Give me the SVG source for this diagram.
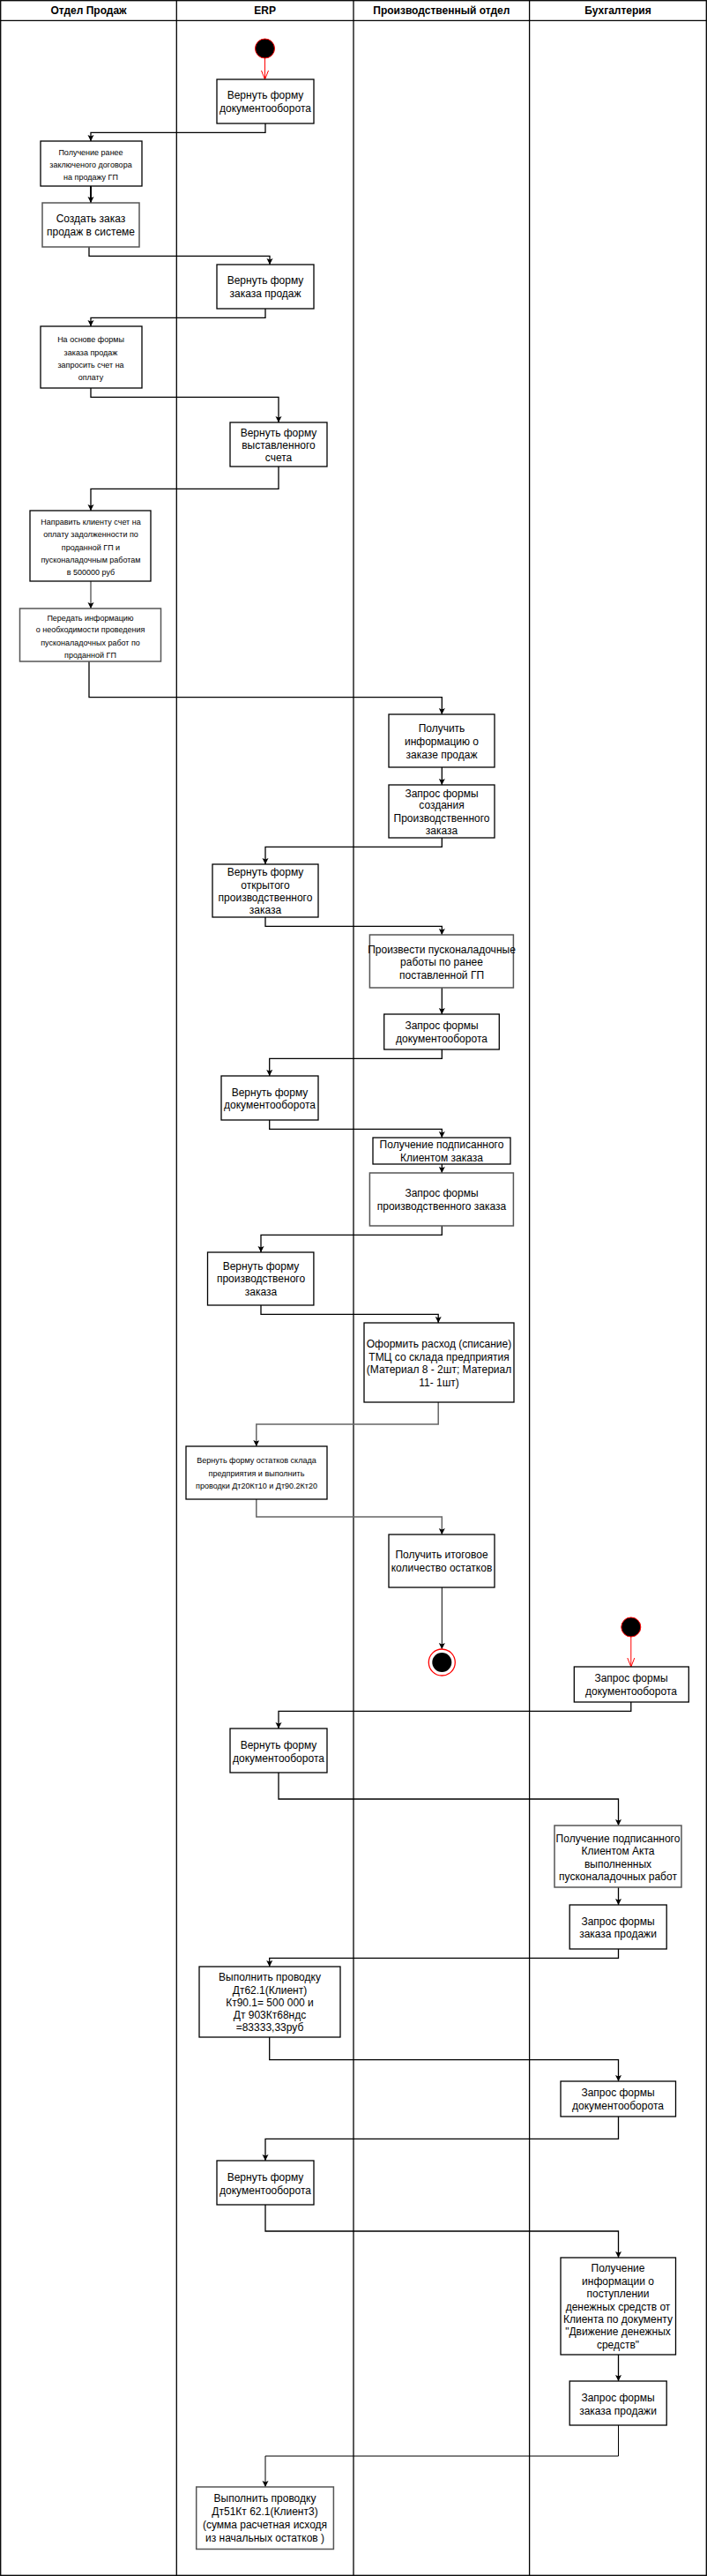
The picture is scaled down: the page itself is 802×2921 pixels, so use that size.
<svg xmlns="http://www.w3.org/2000/svg" width="802" height="2921" viewBox="0 0 802 2921">
<style>
.lane{fill:none;stroke:#000;stroke-width:1.3}
.hd{font-family:"Liberation Sans",Arial,sans-serif;font-size:12px;font-weight:bold;text-anchor:middle;fill:#000}
.box{fill:#fff;stroke:#000;stroke-width:1.3}
.gbox{fill:#fff;stroke:#555;stroke-width:1.5}
.t{font-family:"Liberation Sans",Arial,sans-serif;font-size:12px;text-anchor:middle;fill:#000}
.s{font-family:"Liberation Sans",Arial,sans-serif;font-size:9px;text-anchor:middle;fill:#000}
.c{fill:none;stroke:#000;stroke-width:1.3;marker-end:url(#arr)}
.cg{fill:none;stroke:#666;stroke-width:1.5;marker-end:url(#arr)}
.cr{fill:none;stroke:#f00;stroke-width:1;marker-end:url(#open)}
</style>
<defs>
<marker id="arr" markerUnits="userSpaceOnUse" markerWidth="8" markerHeight="8" refX="7" refY="3.5" orient="auto" viewBox="0 0 8 8">
<path d="M0,0 L7,3.5 L0,7 L1.5,3.5 z" fill="#000"/>
</marker>
<marker id="open" markerUnits="userSpaceOnUse" markerWidth="11" markerHeight="10" refX="10" refY="4" orient="auto" viewBox="0 0 11 10">
<path d="M0,0 L10,4 L0,8" fill="none" stroke="#f00" stroke-width="1"/>
</marker>
</defs>
<rect x="0" y="0" width="802" height="2921" fill="#fff"/>
<g id="lanes">
<rect class="lane" x="0.7" y="0.7" width="800.6" height="2919.6"/>
<line class="lane" x1="0.7" y1="23.3" x2="801.3" y2="23.3"/>
<line class="lane" x1="200.3" y1="0.7" x2="200.3" y2="2920.3"/>
<line class="lane" x1="401" y1="0.7" x2="401" y2="2920.3"/>
<line class="lane" x1="600.6" y1="0.7" x2="600.6" y2="2920.3"/>
<text class="hd" x="100.5" y="16">Отдел Продаж</text>
<text class="hd" x="300.6" y="16">ERP</text>
<text class="hd" x="500.8" y="16">Производственный отдел</text>
<text class="hd" x="701" y="16">Бухгалтерия</text>
</g>
<g id="connectors">
<path class="cr" d="M300.5,66 V90"/>
<path class="c" d="M301,140 V150.3 H103 V160"/>
<path class="c" style="stroke-width:2" d="M103,211 V230"/>
<path class="c" d="M101,280 V290.3 H306 V300"/>
<path class="c" d="M301,350 V360.3 H103 V370"/>
<path class="c" d="M103,440 V450.3 H316 V479"/>
<path class="c" d="M316,529 V554.3 H103 V579"/>
<path class="cg" d="M103,659 V690"/>
<path class="c" d="M101,750 V790.7 H501.3 V810"/>
<path class="c" d="M501.3,870 V890"/>
<path class="c" d="M501.3,950 V960.3 H301 V980"/>
<path class="c" d="M301,1040 V1050.3 H501.3 V1060"/>
<path class="c" d="M501.3,1120 V1150"/>
<path class="c" d="M501.3,1190 V1200.3 H305.7 V1220"/>
<path class="c" d="M305.7,1270 V1280.3 H501.3 V1290"/>
<path class="c" d="M501.3,1320 V1330"/>
<path class="c" d="M501.3,1390 V1400.3 H296 V1420"/>
<path class="c" d="M296,1480 V1490.3 H497.2 V1500"/>
<path class="cg" d="M497.2,1590 V1615 H290.8 V1640"/>
<path class="cg" d="M290.8,1700 V1720 H501.3 V1740"/>
<path class="c" style="stroke-width:1" d="M501.3,1800 V1870"/>
<path class="cr" d="M715.8,1856 V1890"/>
<path class="c" d="M715.8,1930 V1940.3 H316 V1960"/>
<path class="c" d="M316,2010 V2040 H701.5 V2070"/>
<path class="c" d="M701.5,2140 V2160"/>
<path class="c" d="M701.5,2210 V2220.3 H305.7 V2230"/>
<path class="c" d="M305.7,2310 V2335.7 H701.5 V2360"/>
<path class="c" d="M701.5,2400 V2425.3 H301 V2450"/>
<path class="c" d="M301,2500 V2530 H701.5 V2560"/>
<path class="c" d="M701.5,2670 V2700"/>
<path class="c" style="stroke-width:1" d="M701.5,2750 V2785 H301 V2820"/>
</g>
<g id="start1"><circle cx="300.5" cy="55" r="11" fill="#000" stroke="#f00" stroke-width="1"/></g>
<g id="n1"><rect class="box" x="246" y="90" width="110" height="50"/><text class="t" x="301" y="112">Вернуть форму</text><text class="t" x="301" y="127">документооборота</text></g>
<g id="n2"><rect class="box" x="46" y="160" width="115" height="51"/><text class="s" x="103" y="175.7">Получение ранее</text><text class="s" x="103" y="189.7">заключеного договора</text><text class="s" x="103" y="204.3">на продажу ГП</text></g>
<g id="n3"><rect class="gbox" x="48" y="230" width="110" height="50"/><text class="t" x="103" y="252.3">Создать заказ</text><text class="t" x="103" y="267.3">продаж в системе</text></g>
<g id="n4"><rect class="box" x="246" y="300" width="110" height="50"/><text class="t" x="301" y="322.3">Вернуть форму</text><text class="t" x="301" y="337.3">заказа продаж</text></g>
<g id="n5"><rect class="box" x="46" y="370" width="115" height="70"/><text class="s" x="103" y="388">На основе формы</text><text class="s" x="103" y="403">заказа продаж</text><text class="s" x="103" y="417.3">запросить счет на</text><text class="s" x="103" y="431.3">оплату</text></g>
<g id="n6"><rect class="box" x="261" y="479" width="110" height="50"/><text class="t" x="316" y="494.7">Вернуть форму</text><text class="t" x="316" y="509">выставленного</text><text class="t" x="316" y="523.3">счета</text></g>
<g id="n7"><rect class="box" x="34" y="579" width="137" height="80"/><text class="s" x="103" y="595.3">Направить клиенту счет на</text><text class="s" x="103" y="609.3">оплату задолженности по</text><text class="s" x="103" y="623.7">проданной ГП и</text><text class="s" x="103" y="638.3">пусконаладочным работам</text><text class="s" x="103" y="652">в 500000 руб</text></g>
<g id="n8"><rect class="gbox" x="22.5" y="690" width="160" height="60"/><text class="s" x="102.5" y="703.7">Передать информацию</text><text class="s" x="102.5" y="717.3">о необходимости проведения</text><text class="s" x="102.5" y="732">пусконаладочных работ по</text><text class="s" x="102.5" y="746.3">проданной ГП</text></g>
<g id="n9"><rect class="box" x="441" y="810" width="120" height="60"/><text class="t" x="501" y="829.7">Получить</text><text class="t" x="501" y="845">информацию о</text><text class="t" x="501" y="859.7">заказе продаж</text></g>
<g id="n10"><rect class="box" x="441" y="890" width="120" height="60"/><text class="t" x="501" y="903.7">Запрос формы</text><text class="t" x="501" y="917.3">создания</text><text class="t" x="501" y="932.3">Производственного</text><text class="t" x="501" y="946.3">заказа</text></g>
<g id="n11"><rect class="box" x="241" y="980" width="120" height="60"/><text class="t" x="301" y="993.3">Вернуть форму</text><text class="t" x="301" y="1008">открытого</text><text class="t" x="301" y="1022.3">производственного</text><text class="t" x="301" y="1036.3">заказа</text></g>
<g id="n12"><rect class="gbox" x="419.4" y="1060" width="163" height="60"/><text class="t" x="501" y="1080.7">Произвести пусконаладочные</text><text class="t" x="501" y="1095">работы по ранее</text><text class="t" x="501" y="1110">поставленной ГП</text></g>
<g id="n13"><rect class="box" x="435.7" y="1150" width="130.6" height="40"/><text class="t" x="501" y="1167.3">Запрос формы</text><text class="t" x="501" y="1182.3">документооборота</text></g>
<g id="n14"><rect class="box" x="251" y="1220" width="110" height="50"/><text class="t" x="306" y="1243">Вернуть форму</text><text class="t" x="306" y="1257.3">документооборота</text></g>
<g id="n15"><rect class="box" x="423" y="1290" width="156" height="30"/><text class="t" x="501" y="1302.3">Получение подписанного</text><text class="t" x="501" y="1317.3">Клиентом заказа</text></g>
<g id="n16"><rect class="gbox" x="419.4" y="1330" width="163" height="60"/><text class="t" x="501" y="1357.3">Запрос формы</text><text class="t" x="501" y="1372.3">производственного заказа</text></g>
<g id="n17"><rect class="box" x="235.5" y="1420" width="120.4" height="60"/><text class="t" x="296" y="1439.7">Вернуть форму</text><text class="t" x="296" y="1454">производственого</text><text class="t" x="296" y="1469">заказа</text></g>
<g id="n18"><rect class="box" x="413" y="1500" width="170" height="90"/><text class="t" x="498" y="1528">Оформить расход (списание)</text><text class="t" x="498" y="1542.7">ТМЦ  со склада предприятия</text><text class="t" x="498" y="1557.3">(Материал 8 - 2шт; Материал</text><text class="t" x="498" y="1572.3">11- 1шт)</text></g>
<g id="n19"><rect class="box" x="211" y="1640" width="160" height="60"/><text class="s" x="291" y="1659">Вернуть форму остатков склада</text><text class="s" x="291" y="1674">предприятия и выполнить</text><text class="s" x="291" y="1688.3">проводки Дт20Кт10 и Дт90.2Кт20</text></g>
<g id="n20"><rect class="box" x="441" y="1740" width="120" height="60"/><text class="t" x="501" y="1767.3">Получить итоговое</text><text class="t" x="501" y="1782.3">количество остатков</text></g>
<g id="end1"><circle cx="501.3" cy="1885" r="15" fill="#fff" stroke="#f00" stroke-width="1.3"/><circle cx="501.3" cy="1885" r="11" fill="#000"/></g>
<g id="start2"><circle cx="715.8" cy="1845" r="11" fill="#000" stroke="#f00" stroke-width="1"/></g>
<g id="n21"><rect class="box" x="651.3" y="1890" width="130" height="40"/><text class="t" x="716" y="1907.3">Запрос формы</text><text class="t" x="716" y="1922.3">документооборота</text></g>
<g id="n22"><rect class="box" x="261" y="1960" width="110" height="50"/><text class="t" x="316" y="1983.3">Вернуть форму</text><text class="t" x="316" y="1998.3">документооборота</text></g>
<g id="n23"><rect class="gbox" x="629" y="2070" width="144" height="70"/><text class="t" x="701" y="2089">Получение подписанного</text><text class="t" x="701" y="2103.3">Клиентом Акта</text><text class="t" x="701" y="2118">выполненных</text><text class="t" x="701" y="2131.7">пусконаладочных работ</text></g>
<g id="n24"><rect class="box" x="646.2" y="2160" width="110" height="50"/><text class="t" x="701" y="2183">Запрос формы</text><text class="t" x="701" y="2197.3">заказа продажи</text></g>
<g id="n25"><rect class="box" x="226" y="2230" width="160" height="80"/><text class="t" x="306" y="2245.7">Выполнить проводку</text><text class="t" x="306" y="2260.7">Дт62.1(Клиент)</text><text class="t" x="306" y="2275">Кт90.1= 500 000 и</text><text class="t" x="306" y="2289">Дт 903Кт68ндс</text><text class="t" x="306" y="2303.3">=83333,33руб</text></g>
<g id="n26"><rect class="box" x="636" y="2360" width="130.5" height="40"/><text class="t" x="701" y="2377.3">Запрос формы</text><text class="t" x="701" y="2392.3">документооборота</text></g>
<g id="n27"><rect class="box" x="246" y="2450" width="110" height="50"/><text class="t" x="301" y="2473.3">Вернуть форму</text><text class="t" x="301" y="2488.3">документооборота</text></g>
<g id="n28"><rect class="box" x="636" y="2560" width="130.5" height="110"/><text class="t" x="701" y="2576.3">Получение</text><text class="t" x="701" y="2591.3">информации о</text><text class="t" x="701" y="2605">поступлении</text><text class="t" x="701" y="2619.7">денежных средств от</text><text class="t" x="701" y="2634">Клиента по документу</text><text class="t" x="701" y="2648.3">"Движение денежных</text><text class="t" x="701" y="2663">средств"</text></g>
<g id="n29"><rect class="box" x="646.2" y="2700" width="110" height="50"/><text class="t" x="701" y="2723">Запрос формы</text><text class="t" x="701" y="2738">заказа продажи</text></g>
<g id="n30"><rect class="gbox" x="222.7" y="2820" width="155.7" height="70.5"/><text class="t" x="300.5" y="2836.7">Выполнить проводку</text><text class="t" x="300.5" y="2851.7">Дт51Кт 62.1(Клиент3)</text><text class="t" x="300.5" y="2867.3">(сумма расчетная исходя</text><text class="t" x="300.5" y="2882.3">из начальных остатков )</text></g>
</svg>
